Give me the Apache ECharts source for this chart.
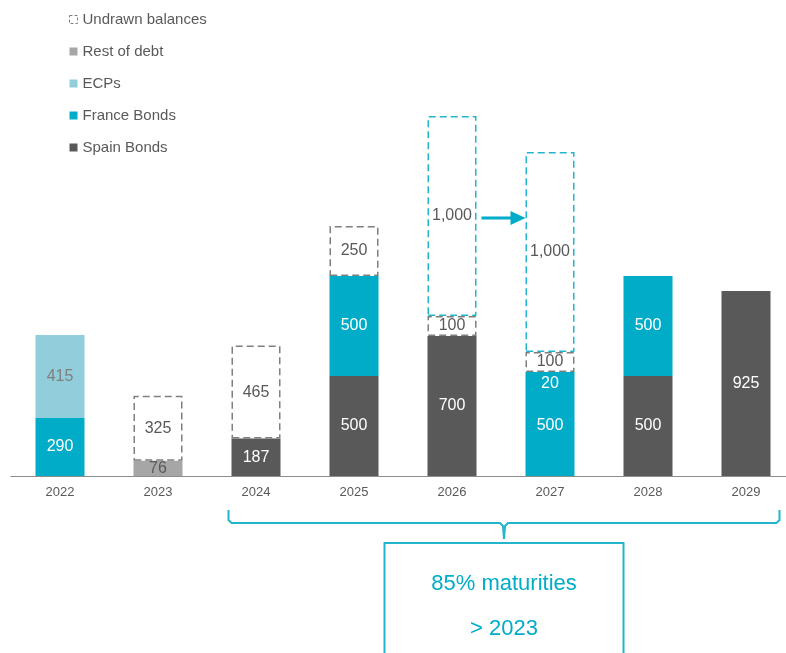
<!DOCTYPE html>
<html>
<head>
<meta charset="utf-8">
<script src="https://cdn.jsdelivr.net/npm/echarts@6/dist/echarts.min.js"></script>
<style>
html,body{margin:0;padding:0;background:#fff;overflow:hidden;}
#chart{width:800px;height:653px;}
</style>
</head>
<body>
<div id="chart"></div>
<script>
// data
var years = ['2022', '2023', '2024', '2025', '2026', '2027', '2028', '2029'];
var spainBonds = ['-', '-', 187, 500, 700, '-', 500, 925];
var franceBonds = [290, '-', '-', 500, '-', 500, 500, '-'];
var franceExtra = ['-', '-', '-', '-', '-', 20, '-', '-'];
var ecps = [415, '-', '-', '-', '-', '-', '-', '-'];
var restOfDebt = ['-', 76, '-', '-', '-', '-', '-', '-'];
var undrawn = ['-', 325, 465, 250, 100, 100, '-', '-'];
var undrawnNew = ['-', '-', '-', '-', 1000, 1000, '-', '-'];
var arrowValue = 1290;
var noteLines = ['85% maturities', '> 2023'];

var FONT = '"Liberation Sans", Arial, sans-serif';
var GREY = '#595959';
var TEAL = '#00ACC8';
var DASH_TEAL = '#22B5CC';

function fmt(p) {
	return Number(p.value).toLocaleString('en-US');
}

function barLabel(color) {
	return {
		show: true,
		position: 'inside',
		color: color,
		fontSize: 16,
		fontFamily: FONT,
		formatter: fmt
	};
}

var myChart = echarts.init(document.getElementById('chart'));

var option = {
	animation: false,
	backgroundColor: '#fff',
	legend: {
		orient: 'vertical',
		left: 64,
		top: 7,
		itemWidth: 8,
		itemHeight: 8,
		itemGap: 17,
		selectedMode: false,
		textStyle: {
			fontSize: 15,
			color: GREY,
			fontFamily: FONT
		},
		data: [
			{name: 'Undrawn balances', icon: 'rect', itemStyle: {color: '#fff', borderColor: '#7f7f7f', borderWidth: 1, borderType: [3, 2]}},
			{name: 'Rest of debt', icon: 'rect', itemStyle: {color: '#A6A6A6', borderWidth: 0}},
			{name: 'ECPs', icon: 'rect', itemStyle: {color: '#92CDDC', borderWidth: 0}},
			{name: 'France Bonds', icon: 'rect', itemStyle: {color: TEAL, borderWidth: 0}},
			{name: 'Spain Bonds', icon: 'rect', itemStyle: {color: GREY, borderWidth: 0}}
		]
	},
	grid: {
		left: 11,
		right: 5,
		top: 96,
		bottom: 177
	},
	xAxis: {
		type: 'category',
		data: years,
		axisLine: {lineStyle: {color: '#8c8c8c', width: 1}},
		axisTick: {show: false},
		axisLabel: {
			color: GREY,
			fontSize: 13,
			fontFamily: FONT,
			margin: 10
		}
	},
	yAxis: {
		type: 'value',
		min: 0,
		max: 1900,
		show: false,
		splitLine: {show: false}
	},
	series: [
		{
			name: 'Spain Bonds', type: 'bar', stack: 'a', barWidth: '50%',
			data: spainBonds,
			itemStyle: {color: GREY},
			label: barLabel('#fff')
		},
		{
			name: 'France Bonds', type: 'bar', stack: 'a',
			data: franceBonds,
			itemStyle: {color: TEAL},
			label: barLabel('#fff')
		},
		{
			name: 'France Bonds', type: 'bar', stack: 'a',
			data: franceExtra,
			itemStyle: {color: TEAL},
			label: Object.assign(barLabel('#fff'), {offset: [0, 10]})
		},
		{
			name: 'ECPs', type: 'bar', stack: 'a',
			data: ecps,
			itemStyle: {color: '#92CDDC'},
			label: barLabel('#7f7f7f')
		},
		{
			name: 'Rest of debt', type: 'bar', stack: 'a',
			data: restOfDebt,
			itemStyle: {color: '#A6A6A6'},
			label: barLabel(GREY)
		},
		{
			name: 'Undrawn balances', type: 'bar', stack: 'a',
			data: undrawn,
			itemStyle: {color: '#fff', borderColor: '#7f7f7f', borderWidth: 1.5, borderType: [7, 4]},
			label: barLabel(GREY)
		},
		{
			name: 'Undrawn balances', type: 'bar', stack: 'a',
			data: undrawnNew,
			itemStyle: {color: 'rgba(255,255,255,0)', borderColor: DASH_TEAL, borderWidth: 1.5, borderType: [7, 4]},
			label: barLabel(GREY)
		}
	]
};

myChart.setOption(option);

// annotations placed from the axes
var band = myChart.convertToPixel({xAxisIndex: 0}, years[1]) - myChart.convertToPixel({xAxisIndex: 0}, years[0]);
var barW = band * 0.5;
var base = myChart.convertToPixel({yAxisIndex: 0}, 0);
var x26 = myChart.convertToPixel({xAxisIndex: 0}, '2026');
var x27 = myChart.convertToPixel({xAxisIndex: 0}, '2027');
var yArrow = myChart.convertToPixel({yAxisIndex: 0}, arrowValue);
var a1 = x26 + barW / 2 + 5;
var a2 = x27 - barW / 2;

var bL = myChart.convertToPixel({xAxisIndex: 0}, '2024') - barW / 2 - 3;
var bR = myChart.convertToPixel({xAxisIndex: 0}, '2029') + barW / 2 + 9;
var bM = (bL + bR) / 2;
var bTop = base + 34;
var bMid = base + 47;
var bTip = base + 63;
var boxW = 239;
var boxTop = base + 67;

myChart.setOption({
	graphic: [
		{
			type: 'line',
			shape: {x1: a1, y1: yArrow, x2: a2 - 12, y2: yArrow},
			style: {stroke: TEAL, lineWidth: 3}
		},
		{
			type: 'polygon',
			shape: {points: [[a2, yArrow], [a2 - 15, yArrow - 7], [a2 - 15, yArrow + 7]]},
			style: {fill: TEAL}
		},
		{
			type: 'polyline',
			shape: {points: [[bL, bTop], [bL, bMid - 3], [bL + 3, bMid], [bM - 4, bMid], [bM - 1, bMid + 3], [bM, bTip]]},
			style: {stroke: DASH_TEAL, lineWidth: 2, fill: null}
		},
		{
			type: 'polyline',
			shape: {points: [[bR, bTop], [bR, bMid - 3], [bR - 3, bMid], [bM + 4, bMid], [bM + 1, bMid + 3], [bM, bTip]]},
			style: {stroke: DASH_TEAL, lineWidth: 2, fill: null}
		},
		{
			type: 'rect',
			shape: {x: bM - boxW / 2, y: boxTop, width: boxW, height: 200},
			style: {stroke: DASH_TEAL, lineWidth: 2, fill: null}
		},
		{
			type: 'text',
			x: bM, y: boxTop + 41,
			style: {text: noteLines[0], fill: TEAL, font: '22px ' + FONT, align: 'center', verticalAlign: 'middle'}
		},
		{
			type: 'text',
			x: bM, y: boxTop + 86,
			style: {text: noteLines[1], fill: TEAL, font: '22px ' + FONT, align: 'center', verticalAlign: 'middle'}
		}
	]
});

window.addEventListener('resize', function () {
	myChart.resize();
});
</script>
</body>
</html>
